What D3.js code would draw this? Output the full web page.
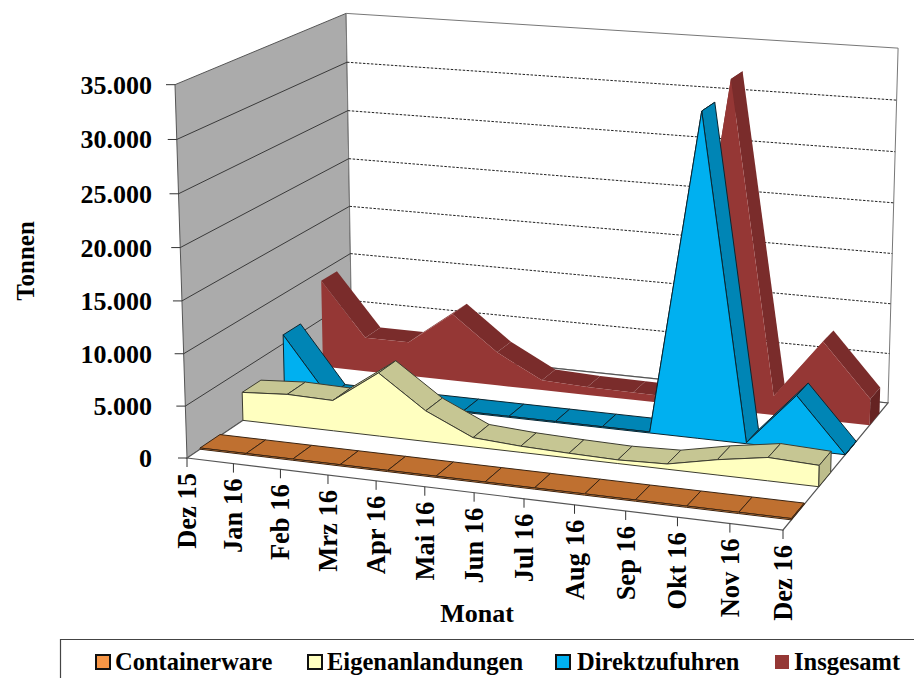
<!DOCTYPE html>
<html>
<head>
<meta charset="utf-8">
<script src="https://cdn.jsdelivr.net/npm/d3@7"></script>
<style>
  html, body { margin: 0; padding: 0; background: #fff; overflow: hidden; }
  svg { display: block; }
  text { font-family: "Liberation Serif", serif; font-weight: 700; fill: #000; }
</style>
</head>
<body>
<svg id="chart" width="914" height="678"></svg>
<script>
/* Daten */
const monate = ["Dez 15", "Jan 16", "Feb 16", "Mrz 16", "Apr 16", "Mai 16", "Jun 16", "Jul 16", "Aug 16", "Sep 16", "Okt 16", "Nov 16", "Dez 16"];
const containerware = [120, 120, 120, 120, 120, 120, 120, 120, 120, 120, 120, 120, 120];
const eigenanlandungen = [2800, 3100, 3000, 6200, 3000, 900, 600, 450, 350, 500, 1450, 2200, 2000];
const direktzufuhren = [5900, 100, 100, 100, 100, 100, 100, 100, 100, 31300, 100, 5200, 0];
const insgesamt = [9000, 3500, 3500, 6900, 3400, 1000, 800, 750, 700, 32500, 1900, 7800, 2600];
const yTicks = [0, 5000, 10000, 15000, 20000, 25000, 30000, 35000];
const yMax = 35000;

/* Rahmen des 3D-Diagramms: Boden (vorne links, vorne rechts, hinten rechts, hinten links),
   Fluchtpunkt der Senkrechten und obere Ecke der vorderen Achse */
const boden = [[187, 458], [783, 530], [888, 403], [352, 347]];
const fluchtpunkt = [558, 12000];
const obenVorne = [175, 85];

const reihen = [
  { name: "Insgesamt", werte: insgesamt, tiefe: [0.806, 0.909], front: "#953735", oben: "#7A2C2B", seite: "#652322", rand: null },
  { name: "Direktzufuhren", werte: direktzufuhren, tiefe: [0.562, 0.67], front: "#00B0F0", oben: "#0085B5", seite: "#0076A3", rand: "#0B2530" },
  { name: "Eigenanlandungen", werte: eigenanlandungen, tiefe: [0.313, 0.423], front: "#FFFFC0", oben: "#C6C693", seite: "#BDBD8C", rand: "#3C3C30" },
  { name: "Containerware", werte: containerware, tiefe: [0.071, 0.182], front: "#F79646", oben: "#BF7030", seite: "#A86128", rand: "#3A2412" }
];

const legende = [
  { name: "Containerware", farbe: "#F79646", keyX: 96, textX: 115 },
  { name: "Eigenanlandungen", farbe: "#FFFFC0", keyX: 308, textX: 327 },
  { name: "Direktzufuhren", farbe: "#00B0F0", keyX: 556, textX: 577 },
  { name: "Insgesamt", farbe: "#953735", keyX: 775, textX: 794 }
];

/* Projektion: (u, v, w) im Einheitswürfel auf die Bildebene */
function projektion(q, vp, oben) {
  const [[x0, y0], [x1, y1], [x2, y2], [x3, y3]] = q;
  const dx1 = x1 - x2, dx2 = x3 - x2, sx = x0 - x1 + x2 - x3;
  const dy1 = y1 - y2, dy2 = y3 - y2, sy = y0 - y1 + y2 - y3;
  const det = dx1 * dy2 - dx2 * dy1;
  const g = (sx * dy2 - dx2 * sy) / det;
  const h = (dx1 * sy - sx * dy1) / det;
  const a = x1 - x0 + g * x1, b = x3 - x0 + h * x3;
  const d = y1 - y0 + g * y1, e = y3 - y0 + h * y3;
  const i = (oben[0] - x0) / (vp[0] - oben[0]);
  return (u, v, w) => {
    const n = g * u + h * v + i * w + 1;
    return [(a * u + b * v + vp[0] * i * w + x0) / n, (d * u + e * v + vp[1] * i * w + y0) / n];
  };
}
const projiziere = projektion(boden, fluchtpunkt, obenVorne);

const xScale = d3.scalePoint().domain(monate).range([0, 1]);
const yScale = d3.scaleLinear().domain([0, yMax]).range([0, 1]);

const punkt = (monat, tiefe, wert) => projiziere(xScale(monat), tiefe, yScale(wert));

const svg = d3.select("#chart");
const linie = d3.line();
const poly = pts => linie(pts) + "Z";

const ersterMonat = monate[0], letzterMonat = monate[monate.length - 1];
const links = t => punkt(ersterMonat, 0, t);
const hintenLinks = t => punkt(ersterMonat, 1, t);
const hintenRechts = t => punkt(letzterMonat, 1, t);

/* Wände und Boden */
const wand = svg.append("g");
wand.append("path")
  .attr("d", poly([links(0), hintenLinks(0), hintenLinks(yMax), links(yMax)]))
  .attr("fill", "#ABABAB").attr("stroke", "#555").attr("stroke-width", 1);
wand.append("path")
  .attr("d", poly([hintenLinks(0), hintenRechts(0), hintenRechts(yMax), hintenLinks(yMax)]))
  .attr("fill", "#fff").attr("stroke", "#777").attr("stroke-width", 1);
wand.append("path")
  .attr("d", poly(boden))
  .attr("fill", "#fff").attr("stroke", "#555").attr("stroke-width", 1.2);

/* Gitterlinien */
wand.selectAll("path.gitter-links")
  .data(yTicks.filter(t => t > 0 && t < yMax))
  .join("path")
  .attr("class", "gitter-links")
  .attr("d", t => linie([links(t), hintenLinks(t)]))
  .attr("fill", "none").attr("stroke", "#3a3a3a").attr("stroke-width", 1);

wand.selectAll("path.gitter-hinten")
  .data(yTicks.filter(t => t > 0 && t < yMax))
  .join("path")
  .attr("class", "gitter-hinten")
  .attr("d", t => linie([hintenLinks(t), hintenRechts(t)]))
  .attr("fill", "none").attr("stroke", "#222").attr("stroke-width", 1).attr("stroke-dasharray", "2.5,1.5");

/* Reihen von hinten nach vorne */
reihen.forEach(r => {
  const [v0, v1] = r.tiefe;
  const g = svg.append("g").attr("class", "reihe");
  const stroke = r.rand || "none";

  // Oberseite je Monatsabschnitt
  g.selectAll("path.oben")
    .data(d3.pairs(monate.map((m, i) => ({ m, w: r.werte[i] }))))
    .join("path")
    .attr("class", "oben")
    .attr("d", ([a, b]) => poly([
      punkt(a.m, v0, a.w), punkt(b.m, v0, b.w),
      punkt(b.m, v1, b.w), punkt(a.m, v1, a.w)
    ]))
    .attr("fill", r.oben).attr("stroke", stroke).attr("stroke-width", 1).attr("stroke-linejoin", "round");

  // Vorderseite
  const oberkante = monate.map((m, i) => punkt(m, v0, r.werte[i]));
  const unterkante = monate.map(m => punkt(m, v0, 0)).reverse();
  g.append("path")
    .attr("d", poly(oberkante.concat(unterkante)))
    .attr("fill", r.front).attr("stroke", stroke).attr("stroke-width", 1).attr("stroke-linejoin", "round");

  // rechte Stirnseite
  const w = r.werte[r.werte.length - 1];
  g.append("path")
    .attr("d", poly([
      punkt(letzterMonat, v0, 0), punkt(letzterMonat, v1, 0),
      punkt(letzterMonat, v1, w), punkt(letzterMonat, v0, w)
    ]))
    .attr("fill", r.seite).attr("stroke", stroke).attr("stroke-width", 1).attr("stroke-linejoin", "round");
});

/* Y-Achse */
const fmt = d => d === 0 ? "0" : d3.format(",")(d).replace(",", ".");
const yAchse = svg.append("g");
yAchse.selectAll("line")
  .data(yTicks)
  .join("line")
  .attr("x1", t => links(t)[0] - 9).attr("y1", t => links(t)[1])
  .attr("x2", t => links(t)[0]).attr("y2", t => links(t)[1])
  .attr("stroke", "#333");
yAchse.selectAll("text")
  .data(yTicks)
  .join("text")
  .attr("x", 152)
  .attr("y", t => links(t)[1] + 9)
  .attr("text-anchor", "end")
  .attr("font-size", 26)
  .text(fmt);

/* X-Achse */
const xAchse = svg.append("g");
xAchse.selectAll("line")
  .data(monate)
  .join("line")
  .attr("x1", m => punkt(m, 0, 0)[0]).attr("y1", m => punkt(m, 0, 0)[1])
  .attr("x2", m => punkt(m, 0, 0)[0]).attr("y2", m => punkt(m, 0, 0)[1] + 9)
  .attr("stroke", "#333");
xAchse.selectAll("text")
  .data(monate)
  .join("text")
  .attr("text-anchor", "end")
  .attr("font-size", 26.5)
  .attr("transform", m => {
    const p = punkt(m, 0, 0);
    return `translate(${p[0] + 9},${p[1] + 15}) rotate(-90)`;
  })
  .text(m => m);

/* Achsentitel */
svg.append("text")
  .attr("transform", "translate(34,261) rotate(-90)")
  .attr("text-anchor", "middle")
  .attr("font-size", 25)
  .text("Tonnen");
svg.append("text")
  .attr("x", 477).attr("y", 622)
  .attr("text-anchor", "middle")
  .attr("font-size", 26)
  .text("Monat");

/* Legende */
svg.append("path")
  .attr("d", "M60.5,678V639.5H914")
  .attr("fill", "none").attr("stroke", "#444").attr("stroke-width", 1.2);
const leg = svg.selectAll("g.legende")
  .data(legende)
  .join("g")
  .attr("class", "legende");
leg.append("rect")
  .attr("x", d => d.keyX).attr("y", 655)
  .attr("width", 14).attr("height", 14)
  .attr("fill", d => d.farbe)
  .attr("stroke", d => d.name === "Insgesamt" ? "none" : "#111").attr("stroke-width", 2);
leg.append("text")
  .attr("x", d => d.textX).attr("y", 670)
  .attr("font-size", 24.5)
  .text(d => d.name);
</script>
</body>
</html>
